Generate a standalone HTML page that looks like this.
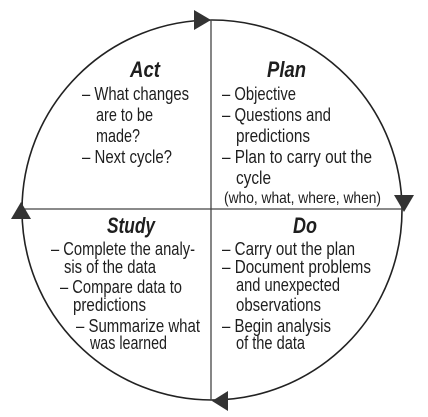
<!DOCTYPE html>
<html><head><meta charset="utf-8"><style>
html,body{margin:0;padding:0;background:#fff;}
svg{display:block;}
text{font-family:"Liberation Sans Narrow","Liberation Sans",sans-serif;fill:#1e1e1e;font-size:18px;}
.t{font-weight:bold;font-style:italic;font-size:22px;}
</style></head><body>
<svg width="428" height="417" viewBox="0 0 428 417" xmlns="http://www.w3.org/2000/svg">
<circle cx="212" cy="210" r="190" fill="none" stroke="#222" stroke-width="1.6"/>
<line x1="211" y1="20" x2="211" y2="400" stroke="#444" stroke-width="1.3"/>
<line x1="22" y1="209" x2="404" y2="209" stroke="#444" stroke-width="1.3"/>
<polygon points="194,10 211,20 194,30" fill="#333"/>
<polygon points="394,195 414,195 404,212" fill="#333"/>
<polygon points="228,391 212,401 228,411" fill="#333"/>
<polygon points="11,219 31,219 21,202" fill="#333"/>

<text class="t" x="130" y="77" textLength="30" lengthAdjust="spacingAndGlyphs">Act</text>
<text class="t" x="267" y="77" textLength="39" lengthAdjust="spacingAndGlyphs">Plan</text>
<text x="82" y="100" textLength="107" lengthAdjust="spacingAndGlyphs">– What changes</text>
<text x="96" y="121" textLength="57" lengthAdjust="spacingAndGlyphs">are to be</text>
<text x="96" y="142" textLength="44" lengthAdjust="spacingAndGlyphs">made?</text>
<text x="82" y="163" textLength="90" lengthAdjust="spacingAndGlyphs">– Next cycle?</text>

<text x="222" y="100" textLength="74" lengthAdjust="spacingAndGlyphs">– Objective</text>
<text x="222" y="121" textLength="109" lengthAdjust="spacingAndGlyphs">– Questions and</text>
<text x="236" y="142" textLength="74" lengthAdjust="spacingAndGlyphs">predictions</text>
<text x="222" y="163" textLength="150" lengthAdjust="spacingAndGlyphs">– Plan to carry out the</text>
<text x="236" y="184" textLength="35" lengthAdjust="spacingAndGlyphs">cycle</text>
<text x="224" y="203" style="font-size:16px" textLength="157" lengthAdjust="spacingAndGlyphs">(who, what, where, when)</text>

<text class="t" x="107" y="233" textLength="48" lengthAdjust="spacingAndGlyphs">Study</text>
<text class="t" x="293" y="233" textLength="24" lengthAdjust="spacingAndGlyphs">Do</text>
<text x="51" y="255" textLength="144" lengthAdjust="spacingAndGlyphs">– Complete the analy-</text>
<text x="64" y="273" textLength="92" lengthAdjust="spacingAndGlyphs">sis of the data</text>
<text x="60" y="293" textLength="122" lengthAdjust="spacingAndGlyphs">– Compare data to</text>
<text x="73" y="311" textLength="73" lengthAdjust="spacingAndGlyphs">predictions</text>
<text x="76" y="332" textLength="124" lengthAdjust="spacingAndGlyphs">– Summarize what</text>
<text x="90" y="349" textLength="77" lengthAdjust="spacingAndGlyphs">was learned</text>

<text x="222" y="255" textLength="133" lengthAdjust="spacingAndGlyphs">– Carry out the plan</text>
<text x="222" y="273" textLength="149" lengthAdjust="spacingAndGlyphs">– Document problems</text>
<text x="236" y="291" textLength="104" lengthAdjust="spacingAndGlyphs">and unexpected</text>
<text x="236" y="311" textLength="85" lengthAdjust="spacingAndGlyphs">observations</text>
<text x="222" y="332" textLength="109" lengthAdjust="spacingAndGlyphs">– Begin analysis</text>
<text x="236" y="349" textLength="69" lengthAdjust="spacingAndGlyphs">of the data</text>
</svg>
</body></html>
